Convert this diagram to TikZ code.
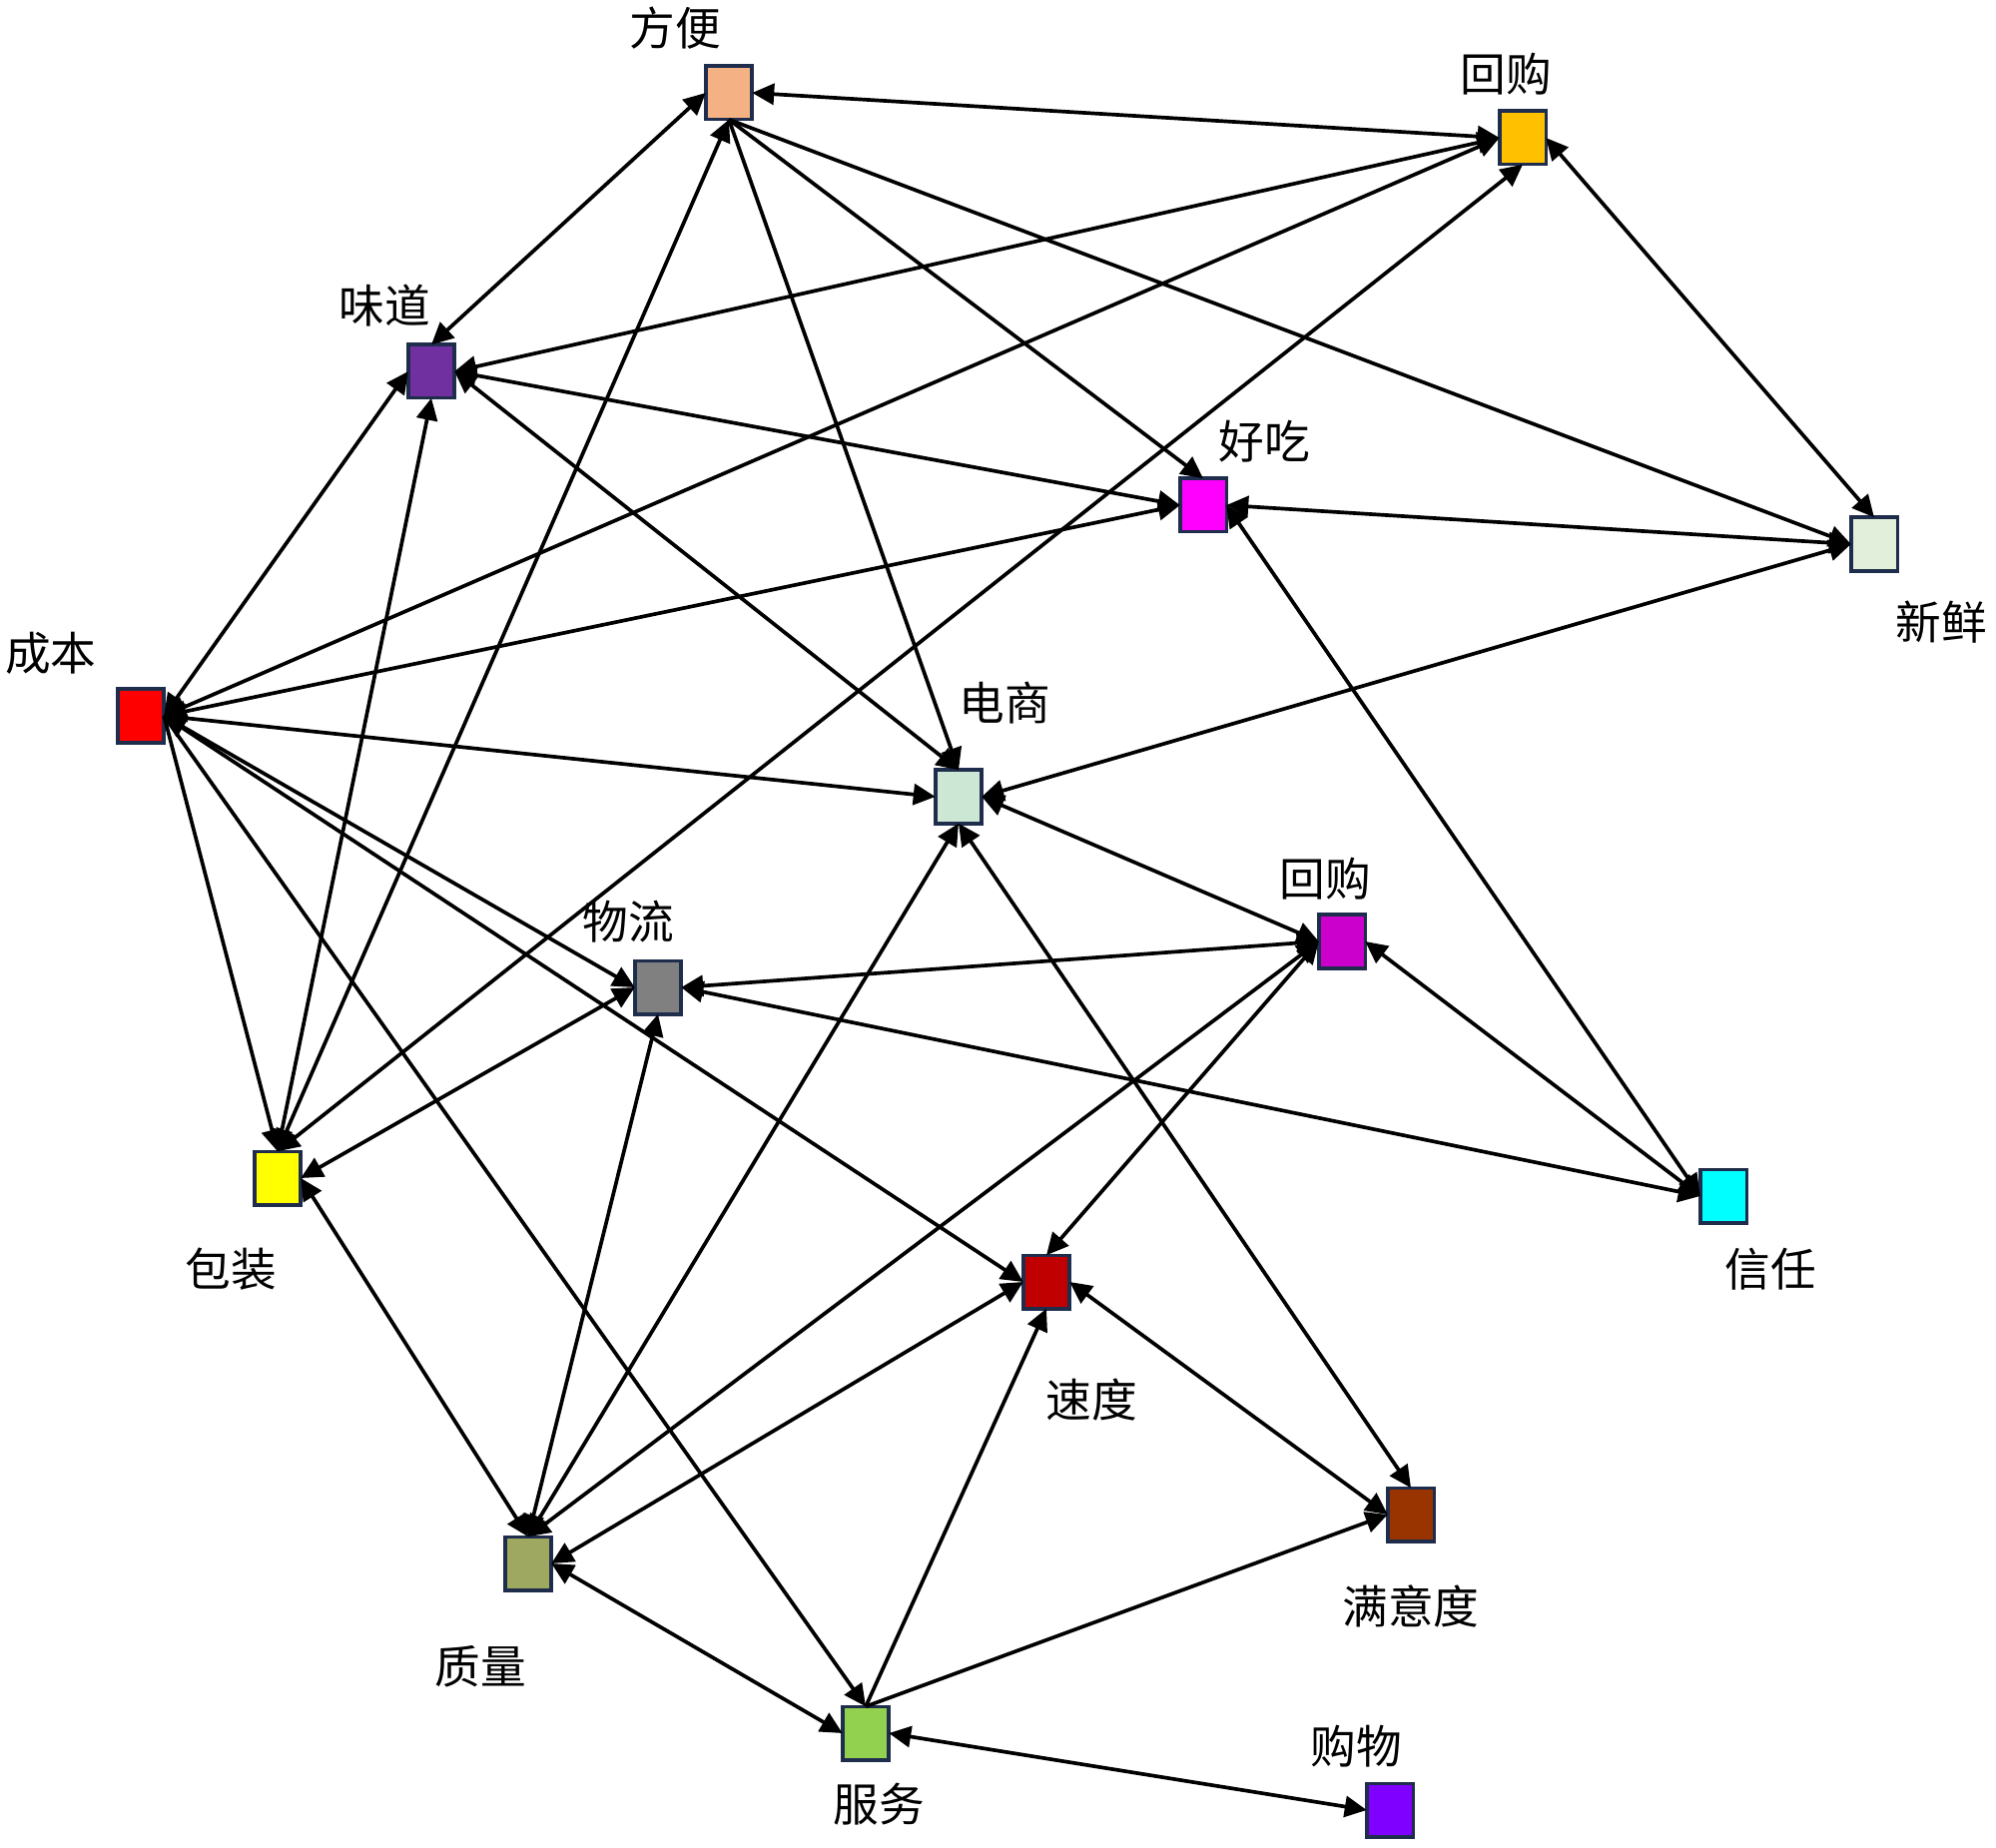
\documentclass[tikz,border=0pt]{standalone}
\usepackage{fontspec}
\setmainfont{Noto Sans CJK SC}
\usetikzlibrary{arrows.meta}
\definecolor{bordercol}{HTML}{1F2D4D}
\definecolor{cfb}{HTML}{F4B183}
\definecolor{chgT}{HTML}{FFC000}
\definecolor{cwd}{HTML}{7030A0}
\definecolor{chc}{HTML}{FF00FF}
\definecolor{cxx}{HTML}{E2EFDA}
\definecolor{ccb}{HTML}{FF0000}
\definecolor{cds}{HTML}{CCE8D4}
\definecolor{chgM}{HTML}{CC00CC}
\definecolor{cwl}{HTML}{808080}
\definecolor{cbz}{HTML}{FFFF00}
\definecolor{cxr}{HTML}{00FFFF}
\definecolor{csd}{HTML}{C00000}
\definecolor{cmyd}{HTML}{993300}
\definecolor{czl}{HTML}{9EA860}
\definecolor{cfw}{HTML}{92D050}
\definecolor{cgw}{HTML}{8000FF}
\begin{document}
\begin{tikzpicture}[x=0.02cm,y=-0.02cm,
  box/.style={draw=bordercol, line width=2pt, minimum width=0.93cm, minimum height=1.07cm, inner sep=0pt, outer sep=0pt},
  lab/.style={font=\fontsize{26}{31}\selectfont, inner sep=0pt},
  conn/.style={line width=2.1pt, black},
  both/.style={conn, {Triangle[length=0.44cm,width=0.42cm]}-{Triangle[length=0.44cm,width=0.42cm]}},
  fwd/.style={conn, -{Triangle[length=0.44cm,width=0.42cm]}}]
\path[use as bounding box] (0,0) rectangle (1999,1851);
% boxes
\node[box, fill=cfb]  (fb)  at (730,93)   {};
\node[box, fill=chgT] (hgT) at (1525,138) {};
\node[box, fill=cwd]  (wd)  at (432,372)  {};
\node[box, fill=chc]  (hc)  at (1205,506) {};
\node[box, fill=cxx]  (xx)  at (1877,545) {};
\node[box, fill=ccb]  (cb)  at (141,717)  {};
\node[box, fill=cds]  (ds)  at (960,798)  {};
\node[box, fill=chgM] (hgM) at (1344,943) {};
\node[box, fill=cwl]  (wl)  at (659,989)  {};
\node[box, fill=cbz]  (bz)  at (278,1180) {};
\node[box, fill=cxr]  (xr)  at (1726,1198) {};
\node[box, fill=csd]  (sd)  at (1048,1284) {};
\node[box, fill=cmyd] (myd) at (1413,1517) {};
\node[box, fill=czl]  (zl)  at (529,1566) {};
\node[box, fill=cfw]  (fw)  at (867,1736) {};
\node[box, fill=cgw]  (gw)  at (1392,1813) {};
% labels
\node[lab] (lfb)  at (676,28)    {方便};
\node[lab] (lhgT) at (1508,74)   {回购};
\node[lab] (lwd)  at (385,306)   {味道};
\node[lab] (lhc)  at (1266,442)  {好吃};
\node[lab] (lxx)  at (1944,623)  {新鲜};
\node[lab] (lcb)  at (51,654)    {成本};
\node[lab] (lds)  at (1006,704)  {电商};
\node[lab] (lhgM) at (1327,880)  {回购};
\node[lab] (lwl)  at (629,923)   {物流};
\node[lab] (lbz)  at (231,1271)  {包装};
\node[lab] (lxr)  at (1773,1271) {信任};
\node[lab] (lsd)  at (1093,1402) {速度};
\node[lab] (lmyd) at (1413,1609) {满意度};
\node[lab] (lzl)  at (481,1669)  {质量};
\node[lab] (lfw)  at (880,1807)  {服务};
\node[lab] (lgw)  at (1358,1749) {购物};
% connectors
\draw[both] (fb.east) -- (hgT.west);
\draw[both] (fb.west) -- (wd.north);
\draw[fwd]  (fb.south) -- (hc.north);
\draw[fwd]  (fb.south) -- (ds.north);
\draw[fwd]  (fb.south) -- (xx.west);
\draw[both] (fb.south) -- (bz.north);
\draw[both] (hgT.west) -- (wd.east);
\draw[both] (hgT.west) -- (cb.east);
\draw[both] (hgT.south) -- (bz.north);
\draw[both] (hgT.east) -- (xx.north);
\draw[both] (wd.west) -- (cb.east);
\draw[both] (wd.south) -- (bz.north);
\draw[both] (wd.east) -- (hc.west);
\draw[both] (wd.east) -- (ds.north);
\draw[both] (hc.east) -- (xx.west);
\draw[both] (cb.east) -- (hc.west);
\draw[both] (hc.east) -- (xr.west);
\draw[both] (xx.west) -- (ds.east);
\draw[fwd]  (cb.east) -- (ds.west);
\draw[both] (cb.east) -- (wl.west);
\draw[fwd]  (cb.east) -- (bz.north);
\draw[both] (cb.east) -- (sd.west);
\draw[fwd]  (cb.east) -- (fw.north);
\draw[both] (ds.east) -- (hgM.west);
\draw[both] (ds.south) -- (zl.north);
\draw[both] (ds.south) -- (myd.north);
\draw[both] (hgM.west) -- (wl.east);
\draw[both] (hgM.west) -- (zl.north);
\draw[both] (hgM.west) -- (sd.north);
\draw[both] (hgM.east) -- (xr.west);
\draw[both] (wl.west) -- (bz.east);
\draw[both] (wl.south) -- (zl.north);
\draw[both] (wl.east) -- (xr.west);
\draw[both] (bz.east) -- (zl.north);
\draw[both] (sd.west) -- (zl.east);
\draw[fwd]  (fw.north) -- (sd.south);
\draw[both] (sd.east) -- (myd.west);
\draw[fwd]  (fw.north) -- (myd.west);
\draw[both] (zl.east) -- (fw.west);
\draw[both] (fw.east) -- (gw.west);
\end{tikzpicture}
\end{document}
